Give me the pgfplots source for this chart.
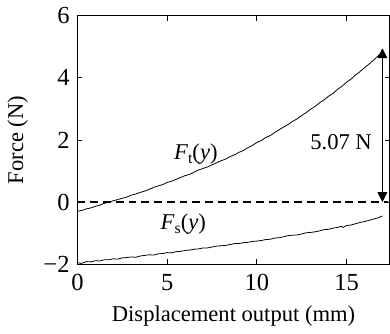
\documentclass[border=0pt]{standalone}
\usepackage{pgfplots}
\pgfplotsset{compat=1.18}
\usepackage{fontspec}
\setmainfont{Liberation Serif}
\usetikzlibrary{arrows.meta}
\begin{document}
\fontsize{11.5}{13}\selectfont
\begin{tikzpicture}
\begin{axis}[
  width=159pt, height=126.5pt, scale only axis,
  xmin=0, xmax=17.4, ymin=-2, ymax=6,
  xtick={0,5,10,15}, ytick={-2,0,2,4,6},
  yticklabels={−2,0,2,4,6},
  tick align=inside, tick style={black, thin},
  major tick length=2.5pt,
  axis line style={black, thin},
  xlabel={Displacement output (mm)},
  ylabel={Force (N)},
  tick label style={font=\fontsize{12.5}{14}\selectfont},
  label style={font=\fontsize{11.5}{13}\selectfont},
  /pgf/number format/assume math mode=true,
  xticklabel style={yshift=-1pt},
  clip=false,
]
\addplot[black, thin] coordinates {
(0,-0.30)(0.25,-0.27)(0.5,-0.22)(0.75,-0.19)(1.0,-0.14)(1.25,-0.10)(1.5,-0.04)(1.75,-0.01)(2.0,0.04)(2.25,0.08)(2.5,0.12)(2.75,0.16)(3.0,0.22)(3.25,0.26)(3.5,0.31)(3.75,0.35)(4.0,0.41)(4.25,0.47)(4.5,0.52)(4.75,0.56)(5.0,0.63)(5.25,0.67)(5.5,0.73)(5.75,0.79)(6.0,0.85)(6.25,0.89)(6.5,0.96)(6.75,1.03)(7.0,1.08)(7.25,1.13)(7.5,1.20)(7.75,1.26)(8.0,1.33)(8.25,1.38)(8.5,1.46)(8.75,1.52)(9.0,1.60)(9.25,1.66)(9.5,1.75)(9.75,1.82)(10.0,1.92)(10.25,1.98)(10.5,2.08)(10.75,2.14)(11.0,2.24)(11.25,2.33)(11.5,2.42)(11.75,2.50)(12.0,2.60)(12.25,2.68)(12.5,2.79)(12.75,2.88)(13.0,2.99)(13.25,3.08)(13.5,3.20)(13.75,3.29)(14.0,3.41)(14.25,3.50)(14.5,3.63)(14.75,3.73)(15.0,3.86)(15.25,3.96)(15.5,4.09)(15.75,4.20)(16.0,4.33)(16.25,4.44)(16.5,4.57)(16.75,4.70)(17.0,4.85)
};
\addplot[black, thin] coordinates {
(0,-1.95)(0.2,-1.98)(0.5,-1.92)(0.75,-1.93)(1,-1.89)(1.25,-1.90)(1.5,-1.86)(1.75,-1.86)(2,-1.83)(2.25,-1.84)(2.5,-1.80)(2.75,-1.79)(3,-1.77)(3.25,-1.78)(3.5,-1.74)(3.75,-1.72)(4,-1.70)(4.25,-1.71)(4.5,-1.67)(4.75,-1.66)(5,-1.63)(5.25,-1.64)(5.5,-1.60)(5.75,-1.59)(6,-1.56)(6.25,-1.55)(6.5,-1.52)(6.75,-1.51)(7,-1.48)(7.25,-1.48)(7.5,-1.45)(7.75,-1.42)(8,-1.41)(8.25,-1.40)(8.5,-1.37)(8.75,-1.34)(9,-1.34)(9.25,-1.31)(9.5,-1.30)(9.75,-1.27)(10,-1.26)(10.25,-1.24)(10.5,-1.21)(10.75,-1.20)(11,-1.16)(11.25,-1.15)(11.5,-1.12)(11.75,-1.08)(12,-1.07)(12.25,-1.06)(12.5,-1.03)(12.75,-0.99)(13,-0.98)(13.25,-0.96)(13.5,-0.93)(13.75,-0.89)(14,-0.88)(14.25,-0.84)(14.5,-0.82)(14.7,-0.78)(14.8,-0.82)(15,-0.76)(15.25,-0.74)(15.5,-0.70)(15.75,-0.66)(16,-0.63)(16.25,-0.59)(16.5,-0.55)(16.75,-0.51)(17,-0.45)
};
\addplot[black, line width=0.9pt, dash pattern=on 4pt off 2.5pt] coordinates {(0,0)(17.3,0)};
\draw[black, thin, {Triangle[length=5pt,width=5pt]}-{Triangle[length=5pt,width=5pt]}] (axis cs:17,0) -- (axis cs:17,4.95);
\node[anchor=east] at (axis cs:16.85,1.93) {5.07 N};
\node at (axis cs:6.6,1.55) {\textit{F}{\fontsize{8}{9}\selectfont\raisebox{-2pt}{t}}(\textit{y})};
\node at (axis cs:5.9,-0.72) {\textit{F}{\fontsize{8}{9}\selectfont\raisebox{-2pt}{s}}(\textit{y})};
\end{axis}
\end{tikzpicture}
\end{document}
